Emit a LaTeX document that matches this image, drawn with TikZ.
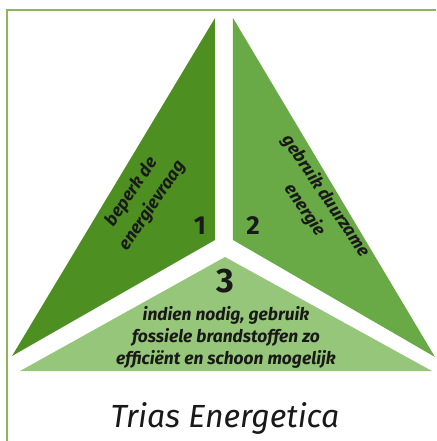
\documentclass[tikz,border=0pt]{standalone}
\usepackage{fontspec}
\setmainfont{Fira Sans}
\usetikzlibrary{positioning}
\definecolor{tegreen}{RGB}{78,143,34}
\definecolor{tegreenmid}{RGB}{106,170,70}
\definecolor{tegreenlight}{RGB}{150,198,122}
\definecolor{teframe}{RGB}{143,180,90}
\definecolor{tetext}{RGB}{25,25,25}

\begin{document}
\begin{tikzpicture}[x=0.5pt, y=-0.5pt,
  steplabel/.style={font=\bfseries\itshape\fontsize{8.7}{11}\selectfont,
                    align=center, text=tetext, inner sep=0pt},
  sidelabel/.style={steplabel, font=\bfseries\itshape\fontsize{8.7}{12.5}\selectfont},
  stepnum/.style={font=\bfseries\fontsize{13}{15}\selectfont, text=tetext, inner sep=0pt}]
\useasboundingbox (0,0) rectangle (436,441);
\draw[teframe, line width=1pt] (7,441) -- (7,10) -- (436,10);
% the three parts
\fill[tegreen] (215,18) -- (215,240) -- (12,356) -- cycle;
\fill[tegreenmid] (233,18) -- (233,240) -- (435,357) -- cycle;
\fill[tegreenlight] (225,257) -- (432,371) -- (20,371) -- cycle;
\node[sidelabel, rotate=56] (lbl1) at (142,199) {beperk de\\energievraag};
\node[sidelabel, rotate=-56] (lbl2) at (315,203) {gebruik duurzame\\energie};
\node[steplabel] (lbl3) at (226,337) {indien nodig, gebruik\\fossiele brandstoffen zo\\efficiënt en schoon mogelijk};
\node[stepnum] (n1) at (200,226) {1};
\node[stepnum] (n2) at (253,226) {2};
\node[stepnum, font=\bfseries\fontsize{17}{19}\selectfont] (n3) at (225,281) {3};
\node[font=\itshape\fontsize{16}{18}\selectfont, text=tetext] (title) at (225,418) {Trias Energetica};
\end{tikzpicture}
\end{document}
